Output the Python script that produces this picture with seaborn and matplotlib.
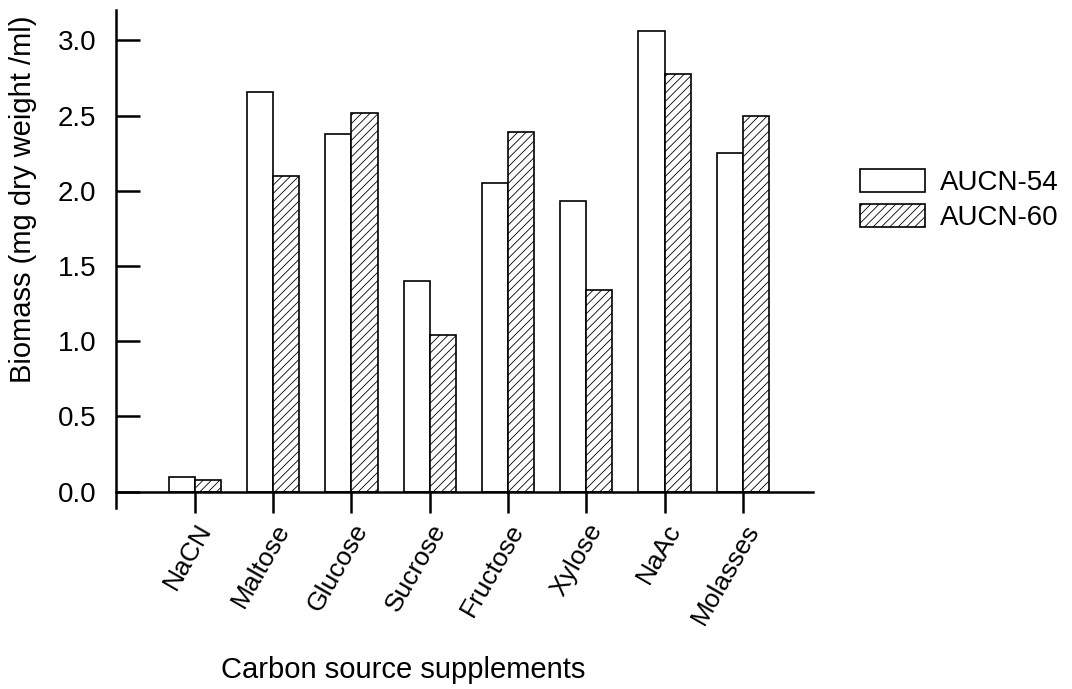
import matplotlib
matplotlib.use("Agg")
import matplotlib.pyplot as plt
import seaborn as sns
import pandas as pd

# values
sources = ["NaCN", "Maltose", "Glucose", "Sucrose", "Fructose", "Xylose", "NaAc", "Molasses"]
aucn54 = [0.10, 2.66, 2.38, 1.40, 2.05, 1.93, 3.06, 2.25]
aucn60 = [0.08, 2.10, 2.52, 1.04, 2.39, 1.34, 2.78, 2.50]
strains = ["AUCN-54", "AUCN-60"]
y_ticks = [0.0, 0.5, 1.0, 1.5, 2.0, 2.5, 3.0]

df = pd.DataFrame({
    "source": sources * 2,
    "biomass": aucn54 + aucn60,
    "strain": [strains[0]] * len(sources) + [strains[1]] * len(sources),
})

sns.set_theme(style="ticks")
plt.rcParams["font.family"] = ["Liberation Sans", "DejaVu Sans"]
plt.rcParams["text.color"] = "black"
plt.rcParams["axes.labelcolor"] = "black"
plt.rcParams["xtick.color"] = "black"
plt.rcParams["ytick.color"] = "black"
plt.rcParams["axes.edgecolor"] = "black"
plt.rcParams["hatch.linewidth"] = 0.6
plt.rcParams["hatch.color"] = "#444444"

fig = plt.figure(figsize=(10.72, 6.89), dpi=100)
ax = fig.add_axes([0.108, 0.263, 0.650, 0.722])

sns.barplot(data=df, x="source", y="biomass", hue="strain", order=sources,
            hue_order=strains, width=0.667, palette=["white", "white"],
            edgecolor="black", linewidth=1.2, saturation=1, ax=ax)

# hatch the second strain
n = len(sources)
for i, bar in enumerate(ax.patches[:2 * n]):
    if i >= n:
        bar.set_hatch("////")

# spine position first, it resets the tick objects
ax.spines["top"].set_visible(False)
ax.spines["right"].set_visible(False)
ax.spines["bottom"].set_position(("data", 0))
ax.spines["bottom"].set_linewidth(1.8)
ax.spines["left"].set_linewidth(1.8)

ax.set_xlim(-1.01, 7.89)
ax.set_ylim(-0.107, 3.2)
ax.set_yticks(y_ticks)
ax.set_yticklabels([f"{v:.1f}" for v in y_ticks])
ax.set_xticks(range(n))
ax.set_xticklabels(sources)
ax.tick_params(axis="y", direction="in", length=17, width=1.8, pad=14, labelsize=20)
ax.tick_params(axis="x", direction="out", length=15, width=1.8, pad=5, labelsize=19,
               labelrotation=60)
for lbl in ax.get_xticklabels():
    lbl.set_ha("right")
    lbl.set_rotation_mode("anchor")

ax.set_xlabel("Carbon source supplements", fontsize=21)
ax.set_ylabel("Biomass (mg dry weight /ml)", fontsize=21)
ax.xaxis.set_label_coords(0.413, -0.297)
ax.yaxis.set_label_coords(-0.113, 0.62)

handles, labels = ax.get_legend_handles_labels()
handles[1].set_hatch("////")
ax.legend(handles, labels, loc="upper left", bbox_to_anchor=(0.802, 0.755),
          bbox_transform=fig.transFigure, frameon=False, fontsize=20,
          borderpad=0, borderaxespad=0,
          handlelength=2.35, handleheight=0.9, handletextpad=0.55, labelspacing=0.3)

fig.savefig("out.png", dpi=100)
